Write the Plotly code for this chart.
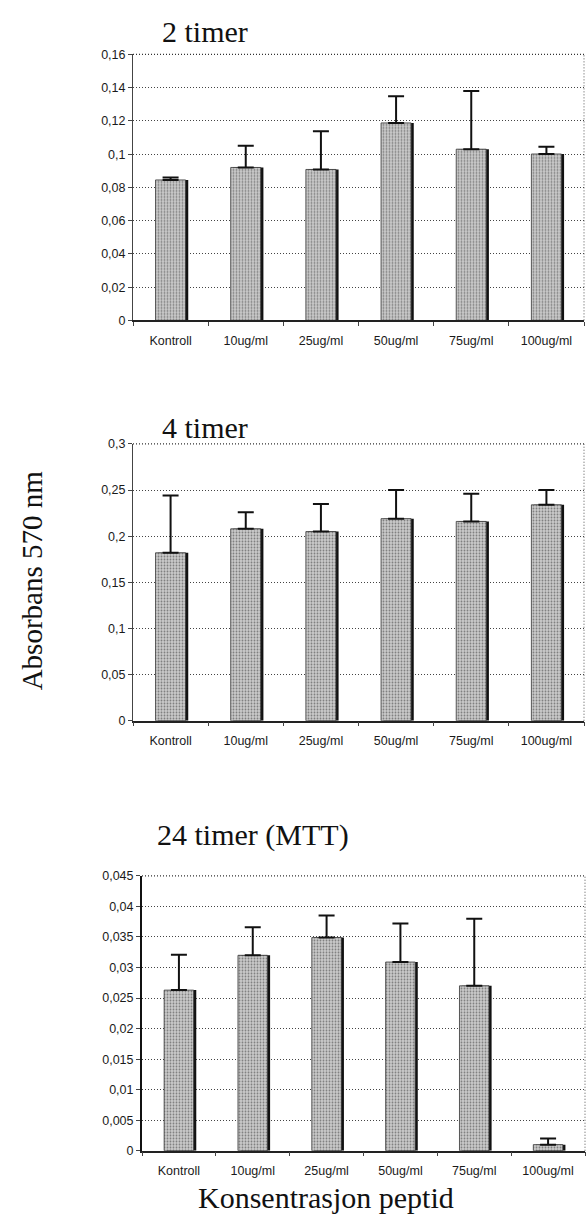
import plotly.graph_objects as go

# ---------------- data ----------------
categories = ["Kontroll", "10ug/ml", "25ug/ml", "50ug/ml", "75ug/ml", "100ug/ml"]

vals_2h = [0.0845, 0.0920, 0.0908, 0.1188, 0.1030, 0.1001]
err_2h = [0.0015, 0.0130, 0.0230, 0.0160, 0.0350, 0.0043]

vals_4h = [0.182, 0.208, 0.205, 0.219, 0.216, 0.234]
err_4h = [0.062, 0.018, 0.030, 0.031, 0.030, 0.016]

vals_24h = [0.0263, 0.0320, 0.0349, 0.0309, 0.0270, 0.0010]
err_24h = [0.0058, 0.0046, 0.0036, 0.0063, 0.0110, 0.0010]

ticks_2h = [0, 0.02, 0.04, 0.06, 0.08, 0.10, 0.12, 0.14, 0.16]
labels_2h = ["0", "0,02", "0,04", "0,06", "0,08", "0,1", "0,12", "0,14", "0,16"]
ticks_4h = [0, 0.05, 0.10, 0.15, 0.20, 0.25, 0.30]
labels_4h = ["0", "0,05", "0,1", "0,15", "0,2", "0,25", "0,3"]
ticks_24h = [0, 0.005, 0.010, 0.015, 0.020, 0.025, 0.030, 0.035, 0.040, 0.045]
labels_24h = ["0", "0,005", "0,01", "0,015", "0,02", "0,025", "0,03", "0,035", "0,04", "0,045"]

titles = ["2 timer", "4 timer", "24 timer (MTT)"]
y_title = "Absorbans 570 nm"
x_title = "Konsentrasjon peptid"

# ---------------- layout helpers ----------------
W, H = 586, 1221
def px_x(x):
    return x / W
def px_y(y):
    return 1 - y / H

SANS = "Liberation Sans, Arial, sans-serif"
SERIF = "Liberation Serif, Times New Roman, serif"
tickfont = dict(family=SANS, size=12.5, color="#1a1a1a")
DOTS = "1px,2px"

panels = [
    dict(vals=vals_2h, err=err_2h, ticks=ticks_2h, labels=labels_2h, rng=[0, 0.16],
         xd=[px_x(133), px_x(584)], yd=[px_y(317), px_y(48)], ylw=1, ylc="#444"),
    dict(vals=vals_4h, err=err_4h, ticks=ticks_4h, labels=labels_4h, rng=[0, 0.30],
         xd=[px_x(133), px_x(584)], yd=[px_y(722), px_y(442)], ylw=1, ylc="#444"),
    dict(vals=vals_24h, err=err_24h, ticks=ticks_24h, labels=labels_24h, rng=[0, 0.045],
         xd=[px_x(142), px_x(585)], yd=[px_y(1157), px_y(879)], ylw=2, ylc="#111"),
]

fig = go.Figure()
layout = dict(
    width=W, height=H, margin=dict(l=0, r=0, t=0, b=0),
    paper_bgcolor="white", plot_bgcolor="white",
    showlegend=False, barmode="overlay",
)
shapes = []

BW = 0.40
SHIFT = 0.035
for i, p in enumerate(panels):
    n = "" if i == 0 else str(i + 1)
    xa, ya = "x" + n, "y" + n
    # shadow (thick dark right edge)
    fig.add_trace(go.Bar(
        x=categories, y=p["vals"], xaxis=xa, yaxis=ya,
        width=BW, offset=-BW / 2 + SHIFT,
        marker=dict(color="#111111", line=dict(width=0)),
        hoverinfo="skip",
    ))
    # stippled bar
    fig.add_trace(go.Bar(
        x=categories, y=p["vals"], xaxis=xa, yaxis=ya,
        width=BW, offset=-BW / 2,
        marker=dict(
            color="#c8c8c8",
            line=dict(width=0.8, color="#333333"),
            pattern=dict(shape=".", fgcolor="#303030", bgcolor="#cacaca",
                         size=3, solidity=0.3),
        ),
        error_y=dict(type="data", symmetric=False, array=p["err"],
                     arrayminus=[0] * len(p["err"]),
                     color="#111111", thickness=2, width=8),
    ))
    layout["xaxis" + n] = dict(
        domain=p["xd"], anchor=ya, type="category", range=[-0.5, 5.5],
        showline=True, linecolor="#222", linewidth=1.5,
        ticks="outside", tickson="boundaries", ticklen=4, tickcolor="#444",
        showgrid=False, zeroline=False, tickfont=tickfont,
        ticklabelstandoff=8, fixedrange=True,
    )
    layout["yaxis" + n] = dict(
        domain=p["yd"], anchor=xa, range=p["rng"],
        tickvals=p["ticks"], ticktext=p["labels"],
        showgrid=True, gridcolor="#444", griddash=DOTS, gridwidth=1,
        showline=True, linecolor=p["ylc"], linewidth=p["ylw"],
        ticks="outside", ticklen=4, tickcolor="#444",
        zeroline=False, tickfont=tickfont, fixedrange=True,
    )
    # right and top border (dotted)
    shapes.append(dict(type="line", xref=xa + " domain", yref=ya + " domain",
                       x0=1, x1=1, y0=0, y1=1,
                       line=dict(color="#555", width=1, dash=DOTS)))
    shapes.append(dict(type="line", xref=xa + " domain", yref=ya + " domain",
                       x0=0, x1=1, y0=1, y1=1,
                       line=dict(color="#333", width=1.2, dash=DOTS)))

layout["shapes"] = shapes
layout["annotations"] = [
    dict(text=titles[0], x=px_x(205), y=px_y(25), xref="paper", yref="paper",
         showarrow=False, xanchor="center", yanchor="middle",
         font=dict(family=SERIF, size=30, color="#111")),
    dict(text=titles[1], x=px_x(205), y=px_y(425), xref="paper", yref="paper",
         showarrow=False, xanchor="center", yanchor="middle",
         font=dict(family=SERIF, size=30, color="#111")),
    dict(text=titles[2], x=px_x(253), y=px_y(838), xref="paper", yref="paper",
         showarrow=False, xanchor="center", yanchor="middle",
         font=dict(family=SERIF, size=30, color="#111")),
    dict(text=x_title, x=px_x(326), y=px_y(1204), xref="paper", yref="paper",
         showarrow=False, xanchor="center", yanchor="middle",
         font=dict(family=SERIF, size=30, color="#111")),
    dict(text=y_title, x=px_x(32), y=px_y(580), xref="paper", yref="paper",
         showarrow=False, xanchor="center", yanchor="middle", textangle=-90,
         font=dict(family=SERIF, size=29, color="#111")),
]

fig.update_layout(**layout)
fig.write_html("out.html")
